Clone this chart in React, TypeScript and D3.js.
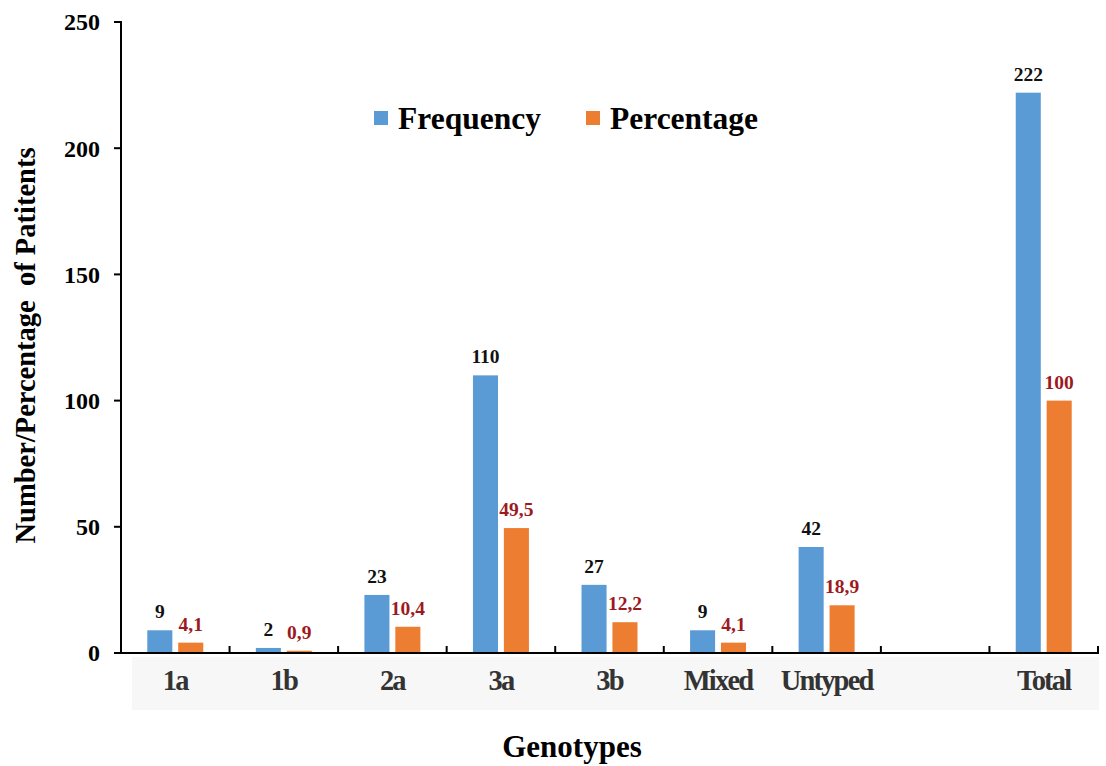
import React from 'react';
import * as d3 from 'd3';

// Genotype distribution of patients
const categories = ['1a', '1b', '2a', '3a', '3b', 'Mixed', 'Untyped', '', 'Total'];
const frequency: (number | null)[] = [9, 2, 23, 110, 27, 9, 42, null, 222];
const percentage: (number | null)[] = [4.1, 0.9, 10.4, 49.5, 12.2, 4.1, 18.9, null, 100];
const seriesNames = ['Frequency', 'Percentage'];
const yTicks = [0, 50, 100, 150, 200, 250];

const W = 1106;
const H = 766;
const left = 121;
const right = 1098;
const top = 22;
const bottom = 653;

const BLUE = '#5b9bd5';
const ORANGE = '#ed7d31';
const RED_LABEL = '#9c1a1e';
const FONT = '"Liberation Serif", "Times New Roman", serif';

const fmt = (v: number) => String(v).replace('.', ',');

export default function App() {
  const keys = categories.map((_, i) => String(i));
  const x0 = d3.scaleBand<string>().domain(keys).range([left, right]).padding(0);
  const x1 = d3
    .scaleBand<string>()
    .domain(seriesNames)
    .range([0, x0.bandwidth()])
    .paddingInner(0.19)
    .paddingOuter(0.85);
  const y = d3.scaleLinear().domain([0, 250]).range([bottom, top]);

  const series = [
    { name: 'Frequency', values: frequency, color: BLUE, labelColor: '#111' },
    { name: 'Percentage', values: percentage, color: ORANGE, labelColor: RED_LABEL },
  ];

  const boundaries = keys.map((k) => (x0(k) as number) + x0.bandwidth());

  return (
    <div style={{ position: 'absolute', left: 0, top: 0 }}>
      <svg width={W} height={H} style={{ display: 'block', background: '#fff' }} fontFamily={FONT}>
        {/* light band behind category labels */}
        <rect x={132} y={657} width={right - 132 + 1} height={53} fill="#f7f7f7" />

        {/* bars */}
        {series.map((s) =>
          s.values.map((v, i) =>
            v == null ? null : (
              <rect
                key={s.name + i}
                x={(x0(keys[i]) as number) + (x1(s.name) as number)}
                y={y(v)}
                width={x1.bandwidth()}
                height={bottom - y(v)}
                fill={s.color}
              />
            )
          )
        )}

        {/* value labels */}
        {series.map((s) =>
          s.values.map((v, i) =>
            v == null ? null : (
              <text
                key={'l' + s.name + i}
                x={(x0(keys[i]) as number) + (x1(s.name) as number) + x1.bandwidth() / 2}
                y={y(v) - 12}
                textAnchor="middle"
                fontSize={19.5}
                fontWeight="bold"
                fill={s.labelColor}
              >
                {fmt(v)}
              </text>
            )
          )
        )}

        {/* y axis */}
        <line x1={left} x2={left} y1={top - 1} y2={bottom + 1} stroke="#000" strokeWidth={2} />
        {yTicks.map((t) => (
          <g key={'yt' + t}>
            <line x1={left - 7} x2={left} y1={y(t)} y2={y(t)} stroke="#000" strokeWidth={2} />
            <text
              x={100}
              y={y(t)}
              dy="0.35em"
              textAnchor="end"
              fontSize={24}
              fontWeight="bold"
              fill="#000"
            >
              {t}
            </text>
          </g>
        ))}

        {/* x axis */}
        <line x1={left - 7} x2={right + 1} y1={bottom} y2={bottom} stroke="#000" strokeWidth={2} />
        {boundaries.map((bx, i) => (
          <line key={'xt' + i} x1={bx} x2={bx} y1={bottom - 7} y2={bottom} stroke="#000" strokeWidth={2} />
        ))}
        {categories.map((c, i) =>
          c ? (
            <text
              key={'xl' + i}
              x={(x0(keys[i]) as number) + x0.bandwidth() / 2}
              y={690}
              textAnchor="middle"
              fontSize={28.5}
              fontWeight="bold"
              letterSpacing={-1.8}
              fill="#333"
            >
              {c}
            </text>
          ) : null
        )}

        {/* axis titles */}
        <text x={572} y={757} textAnchor="middle" fontSize={31} fontWeight="bold" fill="#000">
          Genotypes
        </text>
        <text
          transform={`translate(35, 345.5) rotate(-90)`}
          textAnchor="middle"
          fontSize={28.5}
          fontWeight="bold"
          fill="#000"
          style={{ whiteSpace: 'pre' }}
        >
          {'Number/Percentage  of Patitents'}
        </text>

        {/* legend */}
        <rect x={374} y={111} width={14} height={14} fill={BLUE} />
        <text x={398} y={129} fontSize={31.5} fontWeight="bold" fill="#000">
          Frequency
        </text>
        <rect x={586} y={111} width={14} height={14} fill={ORANGE} />
        <text x={610} y={129} fontSize={31.5} fontWeight="bold" fill="#000">
          Percentage
        </text>
      </svg>
    </div>
  );
}
